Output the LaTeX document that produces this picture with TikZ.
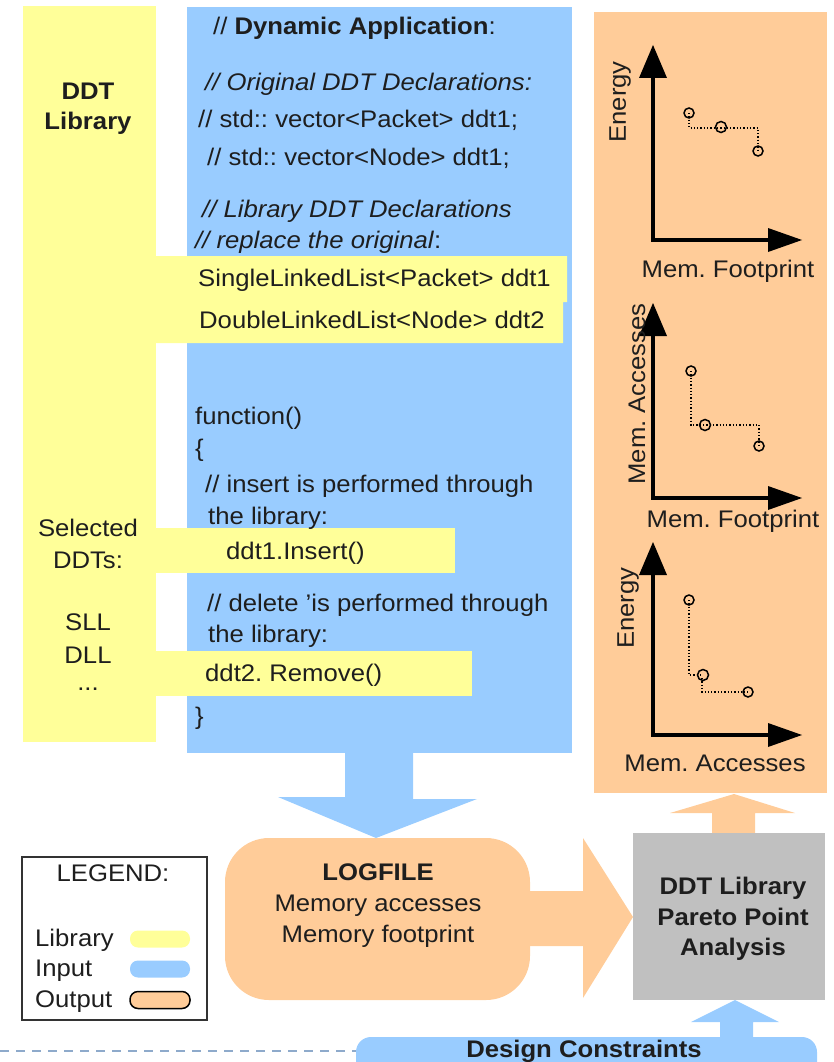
\documentclass[tikz,border=0pt]{standalone}
\usepackage{fontspec}
\setmainfont{Liberation Sans}[FakeStretch=1.07]
\definecolor{libyellow}{HTML}{FFFF99}
\definecolor{inblue}{HTML}{99CCFF}
\definecolor{outorange}{HTML}{FFCC99}
\definecolor{procgray}{HTML}{C0C0C0}
\definecolor{dashblue}{HTML}{8EAACB}
\definecolor{ink}{HTML}{1E1E1E}
\newcommand\txtsize{\fontsize{24}{28}\selectfont\frenchspacing}
% axes of one Pareto chart: #1 = y of the arrow tip, #2 = y of the origin
\newcommand\paretoaxes[2]{%
  \draw[line width=3.5pt] (653,#1+30) -- (653,#2) -- (770,#2);
  \fill (639,#1+33) -- (653,#1) -- (667,#1+33) -- cycle;
  \fill (768,#2-12) -- (802,#2) -- (768,#2+12) -- cycle;
}
\begin{document}
\begin{tikzpicture}[x=1pt,y=-1pt,
  every node/.style={font=\txtsize, inner sep=0pt, text=ink},
  code/.style={anchor=base west},
  ctr/.style={anchor=base},
  vlabel/.style={rotate=90, anchor=center},
  front/.style={dotted, line width=1.3pt},
  pt/.style={draw, line width=1.5pt},
  swatch/.style={rounded corners=8pt, minimum width=60pt, minimum height=17pt}]
\useasboundingbox (0,0) rectangle (834,1062);

% --- application code panel and library column ---
\fill[inblue] (187,7) rectangle (572,753);
\fill[libyellow] (23,6) rectangle (156,742);
\fill[libyellow] (156,256) -- (567,256) -- (567,302) -- (563,302) -- (563,343) -- (156,343) -- cycle;
\fill[libyellow] (156,528) rectangle (455,573);
\fill[libyellow] (156,651) rectangle (472,696);

% --- output panel ---
\fill[outorange] (594,12) rectangle (827,793);

% --- library column text ---
\node[ctr] (ddt) at (88,100) {\textbf{DDT}};
\node[ctr] (lib) at (88,130) {\textbf{Library}};
\node[ctr] (sel) at (88,536) {Selected};
\node[ctr] (seldd) at (88,568) {DDTs:};
\node[ctr] (sll) at (88,630) {SLL};
\node[ctr] (dll) at (88,663) {DLL};
\node[ctr] (more) at (88,690) {...};

% --- application code ---
\node[code] (c1) at (213,35) {// \textbf{Dynamic Application}:};
\node[code] (c2) at (205,91) {\textit{// Original DDT Declarations:}};
\node[code] (c3) at (198,128) {// std:: vector<Packet> ddt1;};
\node[code] (c4) at (207,165) {// std:: vector<Node> ddt1;};
\node[code] (c5) at (202,217) {\textit{// Library DDT Declarations}};
\node[code] (c6) at (195,248) {\textit{// replace the original}:};
\node[code] (c7) at (198,286) {SingleLinkedList<Packet> ddt1};
\node[code] (c8) at (199,328) {DoubleLinkedList<Node> ddt2};
\node[code] (c9) at (195,424) {function()};
\node[code] (c10) at (195,456) {\{};
\node[code] (c11) at (205,492) {// insert is performed through};
\node[code] (c12) at (208,524) {the library:};
\node[code] (c13) at (226,559) {ddt1.Insert()};
\node[code] (c14) at (207,611) {// delete 'is performed through};
\node[code] (c15) at (208,642) {the library:};
\node[code] (c16) at (205,681) {ddt2. Remove()};
\node[code] (c17) at (195,724) {\}};

% --- Pareto charts ---
\paretoaxes{45}{240}
\draw[front] (689,113) -- (689,128) -- (758,128) -- (758,151);
\draw[pt] (689,113) circle[radius=5];
\draw[pt] (721,127) circle[radius=5.5];
\draw[pt] (758,151) circle[radius=5];
\node[vlabel] (e1) at (620,102) {Energy};
\node[ctr] (f1) at (728,277) {Mem. Footprint};

\paretoaxes{303}{498}
\draw[front] (691,371) -- (691,425) -- (759,425) -- (759,446);
\draw[pt] (691,371) circle[radius=5];
\draw[pt] (705,425) circle[radius=5.5];
\draw[pt] (759,446) circle[radius=5];
\node[vlabel] (a2) at (637,394) {Mem. Accesses};
\node[ctr] (f2) at (733,527) {Mem. Footprint};

\paretoaxes{542}{735}
\draw[front] (689,600) -- (689,675) -- (703,675);
\draw[front] (702,678) -- (702,692) -- (748,692);
\draw[pt] (689,600) circle[radius=5];
\draw[pt] (703,675) circle[radius=5.5];
\draw[pt] (748,692) circle[radius=5];
\node[vlabel] (e3) at (628,608) {Energy};
\node[ctr] (a3) at (715,771) {Mem. Accesses};

% --- flow arrows ---
\fill[inblue] (345,752) -- (413,752) -- (413,799) -- (477,799) -- (376,838)
  -- (278,797) -- (345,797) -- cycle;
\fill[outorange] (520,891) -- (583,891) -- (583,838) -- (633,917) -- (583,998)
  -- (583,946) -- (520,946) -- cycle;
\fill[outorange] (712,834) -- (712,813) -- (670,813) -- (734,794) -- (795,813)
  -- (755,813) -- (755,834) -- cycle;

% --- log file and analysis boxes ---
\node (logfile) [fill=outorange, rounded corners=44pt, minimum width=305pt,
  minimum height=162pt] at (377.5,919) {};
\node[ctr] (lg1) at (378,880) {\textbf{LOGFILE}};
\node[ctr] (lg2) at (378,911) {Memory accesses};
\node[ctr] (lg3) at (378,942) {Memory footprint};

\node (pareto) [fill=procgray, minimum width=192pt, minimum height=167pt]
  at (729,916.5) {};
\node[ctr] (pa1) at (733,894) {\textbf{DDT Library}};
\node[ctr] (pa2) at (733,925) {\textbf{Pareto Point}};
\node[ctr] (pa3) at (733,955) {\textbf{Analysis}};

% --- design constraints ---
\draw[dashblue, line width=2pt, dash pattern=on 9pt off 7pt] (0,1051) -- (356,1051);
\begin{scope}
  \clip (0,0) rectangle (834,1062);
  \fill[inblue, rounded corners=15pt] (356,1037) rectangle (817,1090);
\end{scope}
\fill[inblue] (720,1040) -- (720,1022) -- (691,1022) -- (735,1000) -- (779,1022)
  -- (753,1022) -- (753,1040) -- cycle;
\node[ctr] (dc) at (584,1057) {\textbf{Design Constraints}};

% --- legend ---
\draw[black!80, line width=1.8pt] (22,857) rectangle (207,1020);
\node[ctr] (lgd) at (113,881) {LEGEND:};
\node[code] (lgl) at (35,946) {Library};
\node[code] (lgi) at (35,976) {Input};
\node[code] (lgo) at (35,1007) {Output};
\node[swatch, fill=libyellow] (swl) at (160,939) {};
\node[swatch, fill=inblue] (swi) at (160,969) {};
\node[swatch, fill=outorange, draw=black, line width=1.5pt] (swo) at (160,1000) {};
\end{tikzpicture}
\end{document}
